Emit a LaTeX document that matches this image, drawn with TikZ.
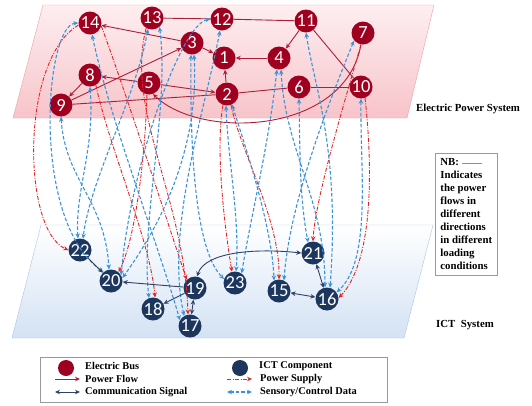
\documentclass[tikz,border=0pt]{standalone}
\usepackage{fontspec}
\setmainfont{Liberation Serif}
\newfontfamily\busfont{Carlito}
\usetikzlibrary{arrows.meta}
\definecolor{busred}{RGB}{160,0,32}
\definecolor{ictblue}{RGB}{28,54,94}
\definecolor{flowred}{RGB}{172,30,56}
\definecolor{supplyred}{RGB}{226,36,36}
\definecolor{datablue}{RGB}{60,146,216}
\definecolor{signalblue}{RGB}{48,66,100}
\definecolor{pinktop}{RGB}{253,238,240}
\definecolor{pinkbot}{RGB}{247,196,202}
\definecolor{pinkedge}{RGB}{236,160,170}
\definecolor{bluetop}{RGB}{255,255,255}
\definecolor{bluebot}{RGB}{212,226,244}
\definecolor{blueedge}{RGB}{168,198,232}
\definecolor{nbpink}{RGB}{222,110,130}
\begin{document}
\begin{tikzpicture}[x=1pt,y=-1pt,
  bus/.style={circle,fill=busred,text=white,minimum size=23pt,inner sep=0pt,font=\busfont\fontsize{18.5}{18.5}\selectfont},
  ict/.style={circle,fill=ictblue,text=white,minimum size=23pt,inner sep=0pt,font=\busfont\fontsize{18.5}{18.5}\selectfont},
  flow/.style={draw=flowred,line width=0.9pt,-{Stealth[length=5pt,width=4.5pt]}},
  flowline/.style={draw=flowred,line width=0.9pt},
  supply/.style={draw=supplyred,line width=0.9pt,dash pattern=on 4pt off 1.5pt on 1pt off 1.5pt,-{Stealth[length=5pt,width=4.5pt]}},
  data/.style={draw=datablue,line width=1.1pt,dash pattern=on 3.5pt off 2pt,{Stealth[length=5pt,width=4.5pt]}-{Stealth[length=5pt,width=4.5pt]}},
  signal/.style={draw=signalblue,line width=0.9pt,-{Stealth[length=5pt,width=4.5pt]}},
  signal2/.style={draw=signalblue,line width=0.9pt,{Stealth[length=5pt,width=4.5pt]}-{Stealth[length=5pt,width=4.5pt]}},
  lbl/.style={font=\bfseries\fontsize{10.8}{13}\selectfont,inner sep=0pt},
  leg/.style={font=\bfseries\fontsize{10.4}{12}\selectfont,inner sep=0pt,anchor=west}]
\useasboundingbox (0,0) rectangle (532,405);
\draw[top color=pinktop,bottom color=pinkbot,draw=pinkedge] (13,118)--(407,118)--(434,5)--(43,5)--cycle;
\draw[top color=bluetop,bottom color=bluebot,draw=blueedge] (12,338)--(404,338)--(433,225)--(41,225)--cycle;
\node[lbl,anchor=west] (eps) at (416,109) {Electric Power System};
\node[lbl,anchor=west] (icts) at (436,325) {ICT\hspace{0.5em}System};
\node (n1) [bus] at (224,58) {1};
\node (n2) [bus] at (227,94) {2};
\node (n3) [bus] at (192,43) {3};
\node (n4) [bus] at (279,58) {4};
\node (n5) [bus] at (149,83) {5};
\node (n6) [bus] at (299,87) {6};
\node (n7) [bus] at (363,33) {7};
\node (n8) [bus] at (90,75) {8};
\node (n9) [bus] at (61,105) {9};
\node (n10) [bus] at (361,87) {10};
\node (n11) [bus] at (306,21) {11};
\node (n12) [bus] at (222,19) {12};
\node (n13) [bus] at (152,18) {13};
\node (n14) [bus] at (90,23) {14};
\node (n15) [ict] at (279,291) {15};
\node (n16) [ict] at (327,299) {16};
\node (n17) [ict] at (190,326) {17};
\node (n18) [ict] at (153,309) {18};
\node (n19) [ict] at (195,288) {19};
\node (n20) [ict] at (111,281) {20};
\node (n21) [ict] at (313,253) {21};
\node (n22) [ict] at (80,250) {22};
\node (n23) [ict] at (235,283) {23};
\draw[flow] (n3)--(n14);
\draw[flowline] (n13)--(n12);
\draw[flowline] (n12)--(n11);
\draw[flow] (n3)--(n1);
\draw[flow] (n4)--(n1);
\draw[flow] (n2)--(n1);
\draw[flow] (n5)--(n8);
\draw[flow] (n5)--(n2);
\draw[flow] (n8)--(n9);
\draw[flow] (n9)--(n3);
\draw[flowline] (n9)--(n2);
\draw[flowline] (n2)--(n6);
\draw[flowline] (n6)--(n10);
\draw[flow] (n11)--(n4);
\draw[flowline] (n11)--(n10);
\draw[flow] (n7.260) .. controls (345,135) and (200,140) .. (n5.290);
\draw[supply] (n14.190) .. controls (20,60) and (22,230) .. (n22.180);
\draw[supply] (n14.-15) .. controls (125,90) and (170,230) .. (n19.135);
\draw[supply] (n8.-60) .. controls (110,150) and (150,240) .. (n18.80);
\draw[supply] (n5.260) .. controls (145,160) and (135,240) .. (n20.50);
\draw[supply] (n13.240) .. controls (125,110) and (185,200) .. (n17.100);
\draw[supply] (n2.250) .. controls (215,150) and (225,230) .. (n23.105);
\draw[supply] (n2.-70) .. controls (240,150) and (280,220) .. (n15.90);
\draw[supply] (n7.-100) .. controls (345,100) and (315,200) .. (n21.90);
\draw[supply] (n10.-70) .. controls (372,160) and (375,260) .. (n16.5);
\draw[data] (n14.180) .. controls (45,25) and (30,220) .. (n20.130);
\draw[data] (n14.-80) .. controls (110,120) and (160,250) .. (n17.150);
\draw[data] (n13.-110) .. controls (135,100) and (90,180) .. (n22.75);
\draw[data] (n13.-50) .. controls (170,110) and (140,220) .. (n18.110);
\draw[data] (n12.180) .. controls (180,25) and (130,170) .. (n20.30);
\draw[data] (n12.-100) .. controls (205,110) and (165,230) .. (n17.120);
\draw[data] (n3.-95) .. controls (190,150) and (195,250) .. (n23.160);
\draw[data] (n3.-80) .. controls (200,160) and (150,240) .. (n20.15);
\draw[data] (n9.-90) .. controls (65,180) and (105,200) .. (n20.100);
\draw[data] (n8.-90) .. controls (95,150) and (75,190) .. (n22.100);
\draw[data] (n2.-95) .. controls (228,160) and (240,220) .. (n23.85);
\draw[data] (n2.-65) .. controls (250,160) and (272,230) .. (n15.115);
\draw[data] (n4.-100) .. controls (268,150) and (250,220) .. (n23.55);
\draw[data] (n4.-80) .. controls (285,150) and (325,200) .. (n16.100);
\draw[data] (n6.-90) .. controls (300,160) and (300,200) .. (n21.115);
\draw[data] (n11.-90) .. controls (315,90) and (340,150) .. (n16.75);
\draw[data] (n7.220) .. controls (330,100) and (290,200) .. (n15.65);
\draw[data] (n10.-90) .. controls (360,170) and (372,260) .. (n16.35);
\draw[signal] (n22)--(n20);
\draw[signal] (n19)--(n20);
\draw[signal] (n19)--(n18);
\draw[signal2] (n19)--(n17);
\draw[signal2] (n21.180) .. controls (255,248) and (205,252) .. (n19.80);
\draw[signal2] (n21)--(n16);
\draw[signal2] (n15)--(n16);
\node[draw=gray!80,line width=0.8pt,anchor=north west,align=left,inner sep=5pt,font=\bfseries\fontsize{10.8}{13}\selectfont,minimum height=122pt] (nb) at (435,153) {NB: {\color{nbpink}\rule[0.3ex]{20pt}{1.6pt}}\\Indicates\\the power\\flows in\\different\\directions\\in different\\loading\\conditions};
\draw[gray!80,line width=0.8pt] (40,357) rectangle (387,402);
\node[circle,fill=busred,minimum size=16pt,inner sep=0pt] (lbus) at (66,368) {};
\node[leg] (tbus) at (85,366) {Electric Bus};
\draw[flow] (55,379)--(80,379);
\node[leg] (tflow) at (85,379) {Power Flow};
\draw[signal2] (55,392)--(80,392);
\node[leg] (tsig) at (85,392) {Communication Signal};
\node[circle,fill=ictblue,minimum size=16pt,inner sep=0pt] (lict) at (240,368) {};
\node[leg] (tict) at (259,366) {ICT Component};
\draw[supply] (227,379)--(252,379);
\node[leg] (tsup) at (260,379) {Power Supply};
\draw[data] (227,392)--(252,392);
\node[leg] (tdata) at (260,392) {Sensory/Control Data};
\end{tikzpicture}
\end{document}
